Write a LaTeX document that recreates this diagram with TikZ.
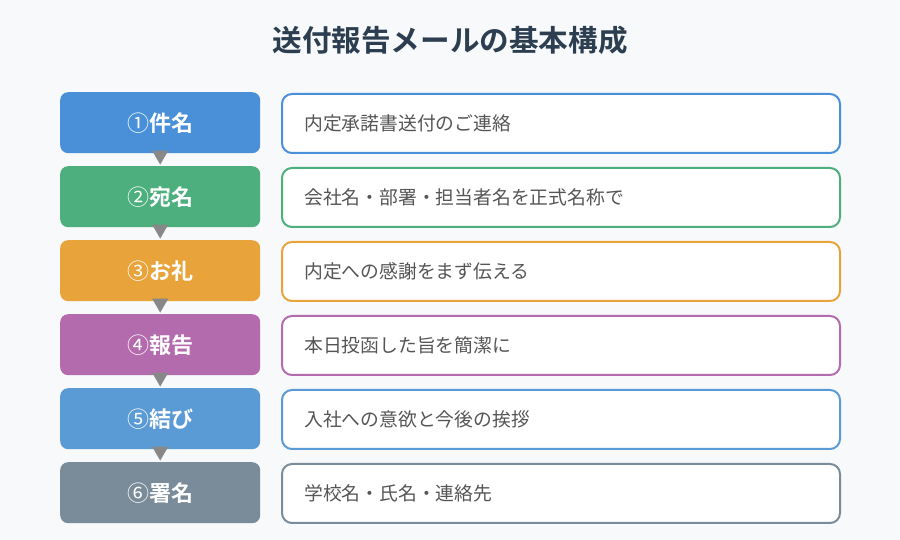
\documentclass[tikz,border=0pt]{standalone}
\usepackage{fontspec}
\setmainfont{Noto Sans CJK JP}
\newfontfamily\jpbold{Noto Sans CJK JP Bold}
\newfontfamily\jpreg{Noto Sans CJK JP}
\usetikzlibrary{shapes.geometric}
\definecolor{bgc}{HTML}{F7F9FB}
\definecolor{titlec}{HTML}{2C3E50}
\definecolor{txtc}{HTML}{555555}
\definecolor{arrc}{HTML}{888888}
\definecolor{cA}{HTML}{4A90D9}
\definecolor{cB}{HTML}{4CAF7D}
\definecolor{cC}{HTML}{E8A33B}
\definecolor{cD}{HTML}{B36BAE}
\definecolor{cE}{HTML}{5B9BD5}
\definecolor{cF}{HTML}{7A8B99}
\tikzset{
  x=1pt,y=1pt,
  stepbox/.style={rounded corners=8pt, minimum width=200pt, minimum height=61pt, inner sep=0pt,
    text=white, font=\jpbold\fontsize{22}{26}\selectfont, anchor=north west},
  descbox/.style={rounded corners=10pt, minimum width=558pt, minimum height=59pt, inner sep=0pt,
    fill=white, line width=2pt, anchor=north west},
  desctext/.style={text=txtc, font=\fontsize{18.8}{22}\selectfont, anchor=west, inner sep=0pt},
  downtri/.style={isosceles triangle, shape border rotate=-90, isosceles triangle apex angle=60,
    fill=arrc, inner sep=0pt, minimum width=16pt, minimum height=13pt, draw=none}
}
\begin{document}
\begin{tikzpicture}
\fill[bgc] (0,0) rectangle (900,540);
\useasboundingbox (0,0) rectangle (900,540);
\node[text=titlec, font=\jpbold\fontsize{29.6}{34}\selectfont] (title) at (450,500) {送付報告メールの基本構成};
\foreach \i/\c/\num/\lab/\desc in {
  0/cA/①/件名/内定承諾書送付のご連絡,
  1/cB/②/宛名/会社名・部署・担当者名を正式名称で,
  2/cC/③/お礼/内定への感謝をまず伝える,
  3/cD/④/報告/本日投函した旨を簡潔に,
  4/cE/⑤/結び/入社への意欲と今後の挨拶,
  5/cF/⑥/署名/学校名・氏名・連絡先}{
  \pgfmathsetmacro{\ytop}{540-92-74*\i}
  \node[stepbox, fill=\c] (s\i) at (60,\ytop) {{\jpreg\num}\lab};
  \node[descbox, draw=\c] (d\i) at (281,\ytop-1) {};
  \node[desctext] (t\i) at ([xshift=23pt]d\i.west) {\desc};
}
\foreach \i [evaluate=\i as \j using int(\i+1)] in {0,...,4}{
  \node[downtri, anchor=apex] (a\i) at ([yshift=1pt]s\j.north) {};
}
\end{tikzpicture}
\end{document}
